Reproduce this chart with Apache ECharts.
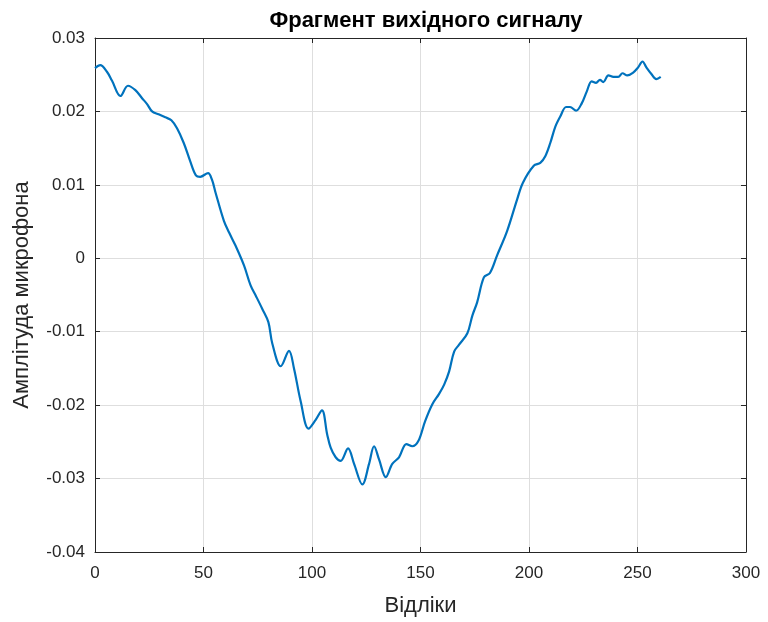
<!DOCTYPE html>
<html>
<head>
<meta charset="utf-8">
<script src="https://cdn.jsdelivr.net/npm/echarts@6/dist/echarts.min.js"></script>
<style>
  html, body { margin: 0; padding: 0; background: #ffffff; }
  #chart { width: 768px; height: 622px; }
</style>
</head>
<body>
<div id="chart"></div>
<script>
// Sample indices and microphone amplitude of the output-signal fragment
const sampleIndex = [
  0, 2.4, 5.5, 7.8, 11.7, 15.2, 18.6, 21.7, 24, 26.3,
  29.3, 32.4, 35.2, 37.8, 40.9, 43.9, 46.5, 48.5, 52.1, 53.9,
  55.6, 59.4, 61.8, 64.8, 68.7, 71.7, 74.1, 77.1, 79.9, 81.7,
  85.6, 89.4, 91.7, 94.8, 98.4, 101.7, 104.6, 107, 108.6, 110.9,
  113.2, 116.6, 119.4, 123.2, 126.3, 128.6, 130.9, 134, 137, 140.1,
  143.5, 146.2, 149, 152.1, 155.4, 158.5, 160.9, 163.2, 165.5, 167.7,
  171.6, 173.9, 176.1, 179.2, 182, 185.3, 189.9, 194.5, 197.2, 202.2,
  205.2, 207.5, 209.8, 212.1, 214.4, 217.1, 218.9, 221.7, 224.3, 226.6,
  228.9, 230.9, 232.7, 234.2, 236.6, 238.9, 241.1, 243.1, 245.3, 248,
  250.3, 252.3, 254.1, 256.4, 258.7, 260.7
];
const amplitude = [
  0.0259, 0.0263, 0.0254, 0.0242, 0.0221, 0.0235, 0.0229, 0.0218, 0.0210, 0.0200,
  0.0196, 0.0192, 0.0188, 0.0177, 0.0157, 0.0132, 0.0113, 0.0111, 0.0116, 0.0107,
  0.0089, 0.0051, 0.0035, 0.0017, -0.0010, -0.0037, -0.0051, -0.0069, -0.0087, -0.0116,
  -0.0147, -0.0126, -0.0150, -0.0195, -0.0232, -0.0220, -0.0207, -0.0240, -0.0258, -0.0271,
  -0.0276, -0.0259, -0.0280, -0.0308, -0.0280, -0.0256, -0.0274, -0.0298, -0.0280, -0.0271,
  -0.0253, -0.0256, -0.0249, -0.0222, -0.0199, -0.0185, -0.0172, -0.0154, -0.0127, -0.0118,
  -0.0102, -0.0078, -0.0060, -0.0026, -0.0020, 0.0004, 0.0037, 0.0080, 0.0103, 0.0126,
  0.0130, 0.0139, 0.0157, 0.0179, 0.0193, 0.0206, 0.0206, 0.0201, 0.0211, 0.0227,
  0.0241, 0.0239, 0.0243, 0.0240, 0.0249, 0.0247, 0.0247, 0.0252, 0.0249, 0.0253,
  0.0260, 0.0268, 0.0260, 0.0251, 0.0244, 0.0247
];

const xTicks = { min: 0, max: 300, interval: 50 };
const yTicks = { min: -0.04, max: 0.03, interval: 0.01 };

const titleText = 'Фрагмент вихідного сигналу';
const xName = 'Відліки';
const yName = 'Амплітуда микрофона';

const FONT = '"Liberation Sans", Arial, sans-serif';
const AXIS_COLOR = '#262626';
const TEXT_COLOR = '#262626';

const points = sampleIndex.map((x, i) => [x, amplitude[i]]);

function fmtY(v) {
  if (Math.abs(v) < 1e-9) return '0';
  return (Math.round(v * 100) / 100).toFixed(2);
}

const chart = echarts.init(document.getElementById('chart'), null, { renderer: 'canvas' });

const axisLineStyle = { show: true, onZero: false, lineStyle: { color: AXIS_COLOR, width: 1 } };
const tickInside = { show: true, inside: true, length: 5, lineStyle: { color: AXIS_COLOR, width: 1 } };

chart.setOption({
  animation: false,
  backgroundColor: '#ffffff',
  title: {
    text: titleText,
    left: 421,
    top: 5,
    textAlign: 'center',
    textStyle: { fontFamily: FONT, fontSize: 22, fontWeight: 'bold', color: '#000000' }
  },
  grid: { left: 95, right: 22, top: 38, bottom: 69, containLabel: false },
  xAxis: [
    {
      type: 'value',
      position: 'bottom',
      min: xTicks.min, max: xTicks.max, interval: xTicks.interval,
      name: xName,
      nameLocation: 'middle',
      nameGap: 43,
      nameTextStyle: { fontFamily: FONT, fontSize: 22, color: TEXT_COLOR },
      axisLine: axisLineStyle,
      axisTick: tickInside,
      axisLabel: { fontFamily: FONT, fontSize: 17, color: TEXT_COLOR, margin: 13 },
      splitLine: { show: true, lineStyle: { color: '#dedede', width: 1 } }
    },
    {
      type: 'value',
      position: 'top',
      min: xTicks.min, max: xTicks.max, interval: xTicks.interval,
      axisLine: axisLineStyle,
      axisTick: tickInside,
      axisLabel: { show: false },
      splitLine: { show: false }
    }
  ],
  yAxis: [
    {
      type: 'value',
      position: 'left',
      min: yTicks.min, max: yTicks.max, interval: yTicks.interval,
      name: yName,
      nameLocation: 'middle',
      nameGap: 62,
      nameTextStyle: { fontFamily: FONT, fontSize: 22, color: TEXT_COLOR },
      axisLine: axisLineStyle,
      axisTick: tickInside,
      axisLabel: { fontFamily: FONT, fontSize: 17, color: TEXT_COLOR, margin: 10, formatter: fmtY },
      splitLine: { show: true, lineStyle: { color: '#dedede', width: 1 } }
    },
    {
      type: 'value',
      position: 'right',
      min: yTicks.min, max: yTicks.max, interval: yTicks.interval,
      axisLine: axisLineStyle,
      axisTick: tickInside,
      axisLabel: { show: false },
      splitLine: { show: false }
    }
  ],
  series: [
    {
      type: 'line',
      xAxisIndex: 0,
      yAxisIndex: 0,
      data: points,
      showSymbol: false,
      smooth: 0.35,
      lineStyle: { color: '#0072BD', width: 2.2 },
      itemStyle: { color: '#0072BD' }
    }
  ]
});
</script>
</body>
</html>
